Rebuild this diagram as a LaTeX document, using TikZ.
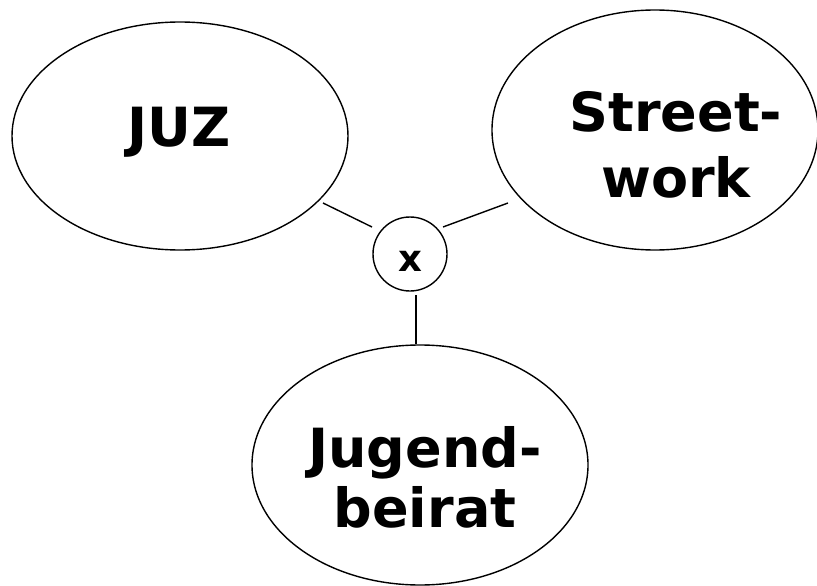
\documentclass[tikz,border=0pt]{standalone}
\usepackage{fontspec}
\setmainfont{DejaVu Sans}
\usetikzlibrary{shapes.geometric}
\tikzset{
  x=1pt, y=-1pt,
  bubble/.style={draw, ellipse, line width=1.4pt, inner sep=0pt},
  big/.style={font=\bfseries\fontsize{54}{60}\selectfont, align=center, inner sep=0pt},
  hub/.style={draw, circle, line width=1.4pt, minimum size=74pt, inner sep=0pt, text height=35pt, text depth=0pt, font=\bfseries\fontsize{37}{40}\selectfont},
  conn/.style={line width=1.4pt}
}
\begin{document}
\begin{tikzpicture}
\useasboundingbox (0,0) rectangle (817,586);
\node[bubble, minimum width=336pt, minimum height=228pt] (juz) at (180,136) {};
\node[bubble, minimum width=326pt, minimum height=240pt] (street) at (655,130) {};
\node[bubble, minimum width=336pt, minimum height=240pt] (jugend) at (420,465) {};
\node[hub] (xn) at (410,254) {x};
\node[big, anchor=base] (tjuz) at (179,146) {JUZ};
\node[big, anchor=base, font=\bfseries\fontsize{54}{66}\selectfont] (tstreet) at (676,197) {Street-\\work};
\node[big, anchor=base] (tjugend) at (425,527) {Jugend-\\beirat};
\coordinate (c1) at (323,203);
\coordinate (c2) at (372,227);
\coordinate (c3) at (443,227);
\coordinate (c4) at (508,203);
\coordinate (c5) at (416,295);
\coordinate (c6) at (416,344);
\draw[conn] (c1) -- (c2);
\draw[conn] (c3) -- (c4);
\draw[conn] (c5) -- (c6);
\end{tikzpicture}
\end{document}
